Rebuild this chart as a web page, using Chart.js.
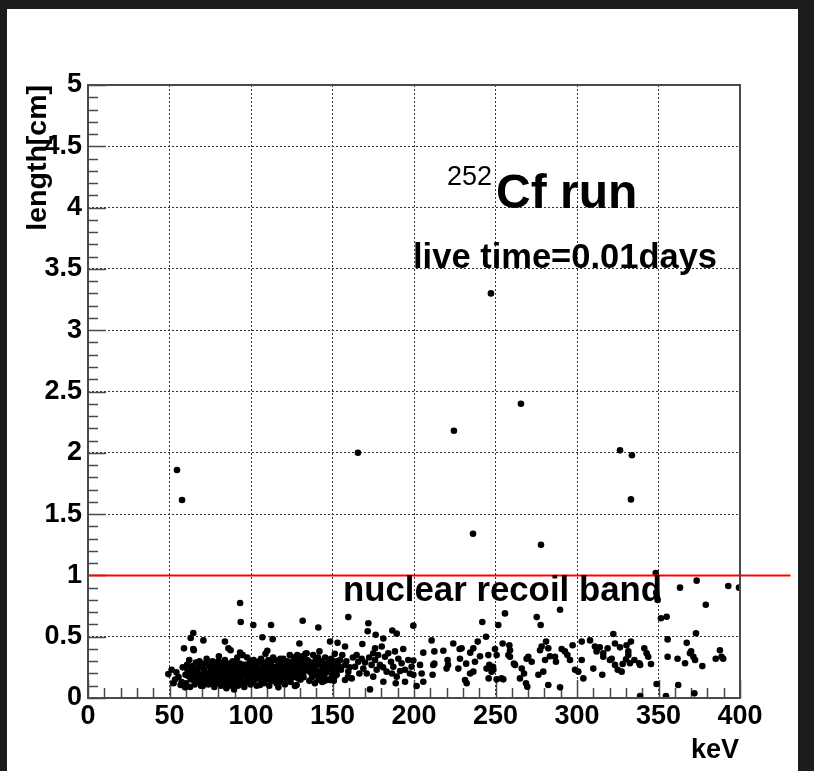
<!DOCTYPE html>
<html><head><meta charset="utf-8">
<script src="https://cdn.jsdelivr.net/npm/chart.js@4.4.1/dist/chart.umd.min.js"></script>
<style>html,body{margin:0;padding:0;background:#1c1c1c;}canvas{display:block;}</style>
</head><body>
<canvas id="c" width="814" height="771"></canvas>
<script>
// ---- data: [energy keV, length cm] ----
const highEvents = [[54.6,1.86],[57.7,1.615],[165.6,2.0],[224.5,2.18],[236.2,1.34],[247.2,3.30],[265.6,2.40],[277.9,1.25],[326.4,2.02],[333.1,1.62],[333.7,1.98],[348.3,1.02]];
const upperEvents = [[63.0,0.49],[64.6,0.53],[70.8,0.47],[84.0,0.46],[93.3,0.775],[93.7,0.62],[101.4,0.595],[107.0,0.495],[112.3,0.595],[113.3,0.48],[129.7,0.445],[131.7,0.63],[141.3,0.575],[159.7,0.66],[171.6,0.545],[172.0,0.61],[176.5,0.515],[181.2,0.485],[186.7,0.55],[189.4,0.525],[199.6,0.59],[241.9,0.62],[244.2,0.50],[251.7,0.595],[255.8,0.69],[275.3,0.66],[277.7,0.595],[289.6,0.72],[322.3,0.522],[348.6,0.86],[348.9,0.826],[349.5,0.80],[351.5,0.65],[355.0,0.663],[363.2,0.90],[373.0,0.528],[373.4,0.957],[379.0,0.76],[392.8,0.913],[399.4,0.90]];
const bandLow = [[49.3,0.195],[51.3,0.23],[52.5,0.12],[53.4,0.15],[54.2,0.21],[55.5,0.17],[56.8,0.106],[57.5,0.13],[58.1,0.25],[58.9,0.405],[59.5,0.087],[59.8,0.19],
[60.2,0.12],[60.8,0.27],[61.5,0.18],[62.1,0.31],[62.6,0.09],[63.0,0.22],[63.7,0.15],[64.3,0.26],[64.6,0.40],[64.9,0.39],[65.4,0.11],[65.8,0.2],[66.2,0.29],
[66.7,0.16],[67.3,0.24],[67.8,0.13],[68.4,0.3],[68.9,0.19],[69.3,0.1],[69.8,0.25],[70.4,0.098],[70.9,0.17],[71.5,0.28],[71.9,0.21],[72.3,0.14],
[72.8,0.32],[73.4,0.19],[73.9,0.11],[74.4,0.26],[74.8,0.16],[75.3,0.23],[75.9,0.13],[76.4,0.3],[76.9,0.2],[77.5,0.09],[77.9,0.25],[78.3,0.17],
[78.8,0.12],[79.0,0.12],[79.2,0.27],[79.7,0.21],[80.3,0.34],[80.6,0.15],[81.1,0.24],[81.6,0.1],[82.1,0.19],[82.6,0.29],[83.0,0.14],[83.5,0.22],[84.0,0.31],
[84.4,0.17],[84.9,0.08],[85.3,0.25],[85.8,0.13],[86.1,0.405],[86.4,0.2],[86.8,0.28],[87.3,0.15],[87.5,0.39],[87.8,0.23],[88.3,0.11],[88.8,0.3],[89.2,0.18],[89.6,0.07],
[90.1,0.26],[90.6,0.14],[91.1,0.21],[91.6,0.33],[92.0,0.1],[92.5,0.19],[93.0,0.28],[93.3,0.37],[93.5,0.16],[94.0,0.24],[94.5,0.12],[94.9,0.35],[95.4,0.2],
[95.9,0.09],[96.4,0.27],[96.9,0.17],[97.4,0.23],[97.7,0.33],[98.3,0.13],[98.8,0.21],[99.2,0.29],[99.7,0.11],[100.2,0.18],[100.7,0.25],[101.0,0.133],
[101.6,0.31],[102.1,0.2],[102.6,0.15],[103.1,0.27],[103.5,0.1],[104.0,0.22],[104.5,0.17],[105.0,0.3],[105.5,0.106],[106.0,0.24],[106.4,0.14],[106.9,0.2],
[107.4,0.28],[107.9,0.12],[108.4,0.19],[108.9,0.36],[109.3,0.25],[109.8,0.15],[110.0,0.385],[110.3,0.22],[110.7,0.31],[111.2,0.1],[111.7,0.18],[112.2,0.27],[112.6,0.14],
[113.1,0.23],[113.6,0.33],[114.1,0.16],[114.7,0.31],[115.2,0.21],[115.6,0.12],[116.1,0.26],[116.8,0.087],[117.3,0.19],[117.8,0.29],[118.3,0.15],[118.8,0.133],
[119.3,0.24],[119.8,0.32],[120.3,0.18],[120.8,0.11],[121.3,0.27],[121.8,0.21],[122.3,0.3],[122.8,0.16],[123.3,0.25],[123.8,0.35],[124.3,0.13],[124.8,0.22],
[125.3,0.29],[125.8,0.19],[126.3,0.33],[126.8,0.25],[127.0,0.098],[127.5,0.17],[128.0,0.106],[128.4,0.35],[128.9,0.27],[129.4,0.2],[129.9,0.3],[130.4,0.15],
[130.9,0.24],[131.4,0.34],[131.9,0.19],[132.4,0.28],[132.9,0.22],[133.4,0.36],[134.1,0.365],[134.6,0.25],[135.2,0.3]];
const bandLowDense = [[61.0,0.23],[62.9,0.16],[64.0,0.19],[66.0,0.23],[67.6,0.2],[69.0,0.28],[70.1,0.14],[71.2,0.23],[72.6,0.18],[73.7,0.29],[75.0,0.19],[76.2,0.25],[77.2,0.15],[78.6,0.22],[79.9,0.3],[80.9,0.19],[82.3,0.25],[83.3,0.11],[84.6,0.27],[85.6,0.2],[86.6,0.1],[87.6,0.26],[88.6,0.2],[89.9,0.24],[90.9,0.29],[91.9,0.15],[92.8,0.23],[93.8,0.2],[95.1,0.27],[96.1,0.22],[97.1,0.13],[98.1,0.26],[99.0,0.17],[100.0,0.3],[101.3,0.22],[102.4,0.24],[103.3,0.18],[104.3,0.29],[105.3,0.2],[106.2,0.32],[107.2,0.16],[108.1,0.24],[109.1,0.29],[110.1,0.18],[111.0,0.26],[112.0,0.22],[112.9,0.31],[113.9,0.19],[114.9,0.25],[115.9,0.17],[117.0,0.23],[118.0,0.32],[119.0,0.2],[120.1,0.28],[121.0,0.15],[122.0,0.24],[123.0,0.2],[124.0,0.29],[125.0,0.17],[126.0,0.26],[127.2,0.31],[128.2,0.22],[129.2,0.16],[130.2,0.26],[131.2,0.3],[132.2,0.17],[133.2,0.25],[134.4,0.31]];
const bandMid = [[135.8,0.14],[136.4,0.21],[137.0,0.29],[137.5,0.17],[137.8,0.26],[138.1,0.35],[138.6,0.24],[139.2,0.12],[139.5,0.22],[139.8,0.31],[140.3,0.19],[140.9,0.27],[141.1,0.33],[141.4,0.15],[142.0,0.38],[142.3,0.18],[142.6,0.22],[143.1,0.30],[143.7,0.13],[143.9,0.28],[144.3,0.25],[144.9,0.18],[145.2,0.14],[145.5,0.33],[146.1,0.21],[146.4,0.25],[146.7,0.28],[147.3,0.15],[147.9,0.24],[148.2,0.29],[148.5,0.46],[148.5,0.147],[149.1,0.32],[149.6,0.19],[149.9,0.23],[150.2,0.26],[150.8,0.14],[151.1,0.17],[151.4,0.36],[152.0,0.22],[152.3,0.3],[152.6,0.19],[153.1,0.45],[153.8,0.26],[154.6,0.31],[155.2,0.23],[156.0,0.35],[157.7,0.27],[157.7,0.42],[157.7,0.147],[158.5,0.3],[159.5,0.17],[159.7,0.215],[160.5,0.25],[161.8,0.16],[162.5,0.33],[163.8,0.255],[164.8,0.35],[165.8,0.296],[166.5,0.2],[167.9,0.32],[168.3,0.44],[168.9,0.24],[170.0,0.29],[171.0,0.20],[172.5,0.33],[173.0,0.07],[174.0,0.27],[175.0,0.365],[175.0,0.174],[176.1,0.31],[176.1,0.405],[177.1,0.23],[178.0,0.35],[179.1,0.27],[180.2,0.42],[181.0,0.25],[181.2,0.133],[182.2,0.337],[183.2,0.215],[184.2,0.365],[185.9,0.296],[186.5,0.2],[187.3,0.255],[188.3,0.38],[188.8,0.12],[189.4,0.174],[190.4,0.32],[191.5,0.22],[192.4,0.283],[193.4,0.40],[194.5,0.23],[194.5,0.133],[196.5,0.31],[197.5,0.2],[198.5,0.255],[199.6,0.19],[199.6,0.305],[201.6,0.098],[203.7,0.27],[204.7,0.20],[205.7,0.37],[205.7,0.133],[210.8,0.47],[211.4,0.19],[211.8,0.27],[212.5,0.38],[212.5,0.28],[218.0,0.385],[220.0,0.24],[220.6,0.31],[220.9,0.27]];
const bandHigh = [[224.1,0.445],[228.0,0.40],[229.2,0.405],[236.4,0.405],[234.5,0.37],[239.1,0.46],[240.5,0.34],[228.2,0.32],[232.0,0.28],[227.2,0.24],[231.3,0.147],[232.3,0.12],[234.4,0.20],[236.4,0.215],[237.4,0.296],[244.5,0.24],[245.6,0.35],[245.8,0.16],[246.2,0.27],[247.6,0.215],[248.7,0.23],[248.5,0.255],[249.7,0.40],[250.7,0.152],[250.7,0.35],[253.7,0.16],[254.4,0.445],[254.8,0.152],[257.9,0.35],[258.5,0.43],[258.9,0.39],[258.9,0.337],[261.3,0.28],[262.0,0.27],[265.0,0.16],[266.1,0.24],[267.5,0.20],[268.7,0.12],[269.5,0.092],[269.1,0.32],[270.1,0.337],[272.2,0.296],[276.3,0.19],[277.3,0.39],[278.3,0.42],[279.3,0.215],[280.4,0.31],[281.0,0.46],[282.4,0.405],[282.4,0.106],[283.4,0.34],[286.5,0.337],[287.1,0.296],[289.6,0.087],[290.6,0.40],[292.6,0.38],[294.1,0.35],[295.7,0.31],[297.3,0.43],[298.8,0.23],[300.8,0.215],[302.9,0.31],[302.9,0.46],[303.9,0.16],[308.0,0.47],[310.0,0.24],[311.0,0.42],[312.0,0.38],[314.0,0.413],[315.5,0.19],[316.1,0.337],[316.1,0.365],[318.8,0.405],[320.2,0.31],[321.3,0.32],[323.3,0.445],[323.3,0.27],[325.0,0.23],[326.4,0.413],[327.4,0.215],[328.0,0.277],[330.1,0.315],[330.4,0.43],[331.5,0.38],[331.5,0.35],[332.5,0.283],[333.1,0.46],[335.2,0.31],[338.2,0.283],[338.7,0.016],[338.7,0.27],[341.3,0.405],[342.7,0.364],[343.7,0.337],[345.4,0.277],[348.8,0.114],[354.6,0.016],[355.6,0.478],[355.6,0.337],[361.7,0.32],[362.1,0.106],[366.3,0.283],[367.3,0.45],[369.3,0.365],[370.0,0.38],[371.4,0.337],[372.4,0.31],[372.0,0.038],[376.9,0.26],[385.1,0.32],[387.7,0.39],[388.7,0.337],[389.7,0.32]];
const cutLength = 1.0;          // nuclear recoil band upper edge (cm)
const cutLineEnd = 431;         // red line drawn past the frame (keV)
const xTickStep = 50, yTickStep = 0.5;

const toXY = a => a.map(p => ({x: p[0], y: p[1]}));
const allEvents = [].concat(bandLow, bandLowDense, bandMid, bandHigh, upperEvents, highEvents);

const FONT = '"Liberation Sans", Arial, Helvetica, sans-serif';

const rootStyle = {
  id: 'rootStyle',
  beforeDraw(chart) {
    const ctx = chart.ctx;
    ctx.save();
    ctx.fillStyle = '#1c1c1c';
    ctx.fillRect(0, 0, chart.width, chart.height);
    ctx.fillStyle = '#ffffff';
    ctx.fillRect(7, 9, 791, chart.height - 9);
    ctx.restore();
  },
  beforeDatasetsDraw(chart) {
    const {ctx, chartArea: a, scales: {x, y}} = chart;
    ctx.save();
    ctx.strokeStyle = '#4a4a4a';
    ctx.lineWidth = 1.5;
    ctx.beginPath();
    for (let i = 0; i <= 40; i++) {
      const px = Math.round(x.getPixelForValue(i * 10)) + 0.5;
      const L = i % 5 === 0 ? 18 : 10;
      ctx.moveTo(px, a.bottom); ctx.lineTo(px, a.bottom - L);
    }
    for (let i = 0; i <= 50; i++) {
      const py = Math.round(y.getPixelForValue(i / 10)) + 0.5;
      const L = i % 5 === 0 ? 18 : 10;
      ctx.moveTo(a.left, py); ctx.lineTo(a.left + L, py);
    }
    ctx.stroke();
    ctx.restore();
  },
  afterDraw(chart) {
    const {ctx, chartArea: a, scales: {x, y}} = chart;
    ctx.save();
    ctx.strokeStyle = '#4a4a4a';
    ctx.lineWidth = 2;
    ctx.strokeRect(a.left, a.top, a.right - a.left, a.bottom - a.top);
    ctx.fillStyle = '#000';
    ctx.textBaseline = 'alphabetic';
    ctx.textAlign = 'left';
    ctx.font = '27px ' + FONT;
    ctx.fillText('252', x.getPixelForValue(220.2), y.getPixelForValue(4.184));
    ctx.font = 'bold 48px ' + FONT;
    ctx.fillText('Cf run', x.getPixelForValue(250.3), y.getPixelForValue(3.997));
    ctx.font = 'bold 34.5px ' + FONT;
    ctx.fillText('live time=0.01days', x.getPixelForValue(199.4), y.getPixelForValue(3.507));
    ctx.font = 'bold 34.8px ' + FONT;
    ctx.fillText('nuclear recoil band', x.getPixelForValue(156.4), y.getPixelForValue(0.791));
    ctx.font = 'bold 27px ' + FONT;
    ctx.textAlign = 'right';
    ctx.fillText('keV', a.right - 1, 758);
    ctx.font = 'bold 28.5px ' + FONT;
    ctx.translate(46, a.top);
    ctx.rotate(-Math.PI / 2);
    ctx.textAlign = 'right';
    ctx.fillText('length[cm]', 0, 0);
    ctx.restore();
  }
};

const tickFont = {family: FONT, weight: 'bold', size: 27};

new Chart(document.getElementById('c'), {
  type: 'scatter',
  data: {
    datasets: [
      {
        type: 'line', data: [{x: 0, y: cutLength}, {x: cutLineEnd, y: cutLength}],
        borderColor: '#ff0000', borderWidth: 2, pointRadius: 0, clip: false, order: 0
      },
      {
        data: toXY(allEvents), pointStyle: 'circle', pointRadius: 3.3, pointHoverRadius: 3.3,
        backgroundColor: '#000', borderColor: '#000', borderWidth: 0, order: 1
      }
    ]
  },
  plugins: [rootStyle],
  options: {
    responsive: false, animation: false, devicePixelRatio: 1,
    events: [],
    layout: {padding: {top: 85, right: 74, left: 0, bottom: 0}},
    plugins: {legend: {display: false}, tooltip: {enabled: false}},
    scales: {
      x: {
        type: 'linear', min: 0, max: 400,
        afterFit(s) { s.height = 73; },
        ticks: {stepSize: xTickStep, font: tickFont, color: '#000', padding: 2, maxRotation: 0, autoSkip: false},
        grid: {color: '#333', lineWidth: 1, drawTicks: false},
        border: {display: false, dash: [2, 2]}
      },
      y: {
        type: 'linear', min: 0, max: 5,
        afterFit(s) { s.width = 88; },
        ticks: {stepSize: yTickStep, font: tickFont, color: '#000', padding: 6, autoSkip: false,
          callback: v => String(v)},
        grid: {color: '#333', lineWidth: 1, drawTicks: false},
        border: {display: false, dash: [2, 2]}
      }
    }
  }
});
</script>
</body></html>
